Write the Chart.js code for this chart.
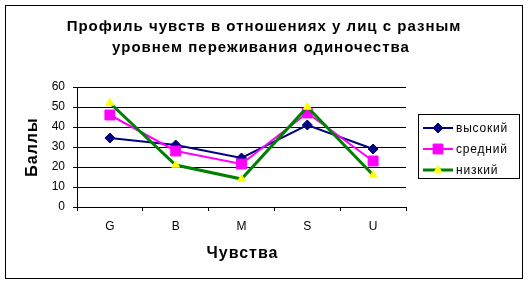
<!DOCTYPE html>
<html>
<head>
<meta charset="utf-8">
<script src="https://cdn.jsdelivr.net/npm/chart.js@4/dist/chart.umd.min.js"></script>
<style>
html,body{margin:0;padding:0;background:#fff;overflow:hidden;}
#wrap{position:absolute;left:0;top:0;width:529px;height:284px;}
</style>
</head>
<body>
<div id="wrap"><canvas id="c" width="529" height="284"></canvas></div>
<script>
const categories = ['G', 'B', 'M', 'S', 'U'];
const seriesNames = ['высокий', 'средний', 'низкий'];
const highValues = [34.5, 31, 24.5, 41, 29];
const midValues = [46, 28, 21.5, 47, 23];
const lowValues = [52, 21, 14, 50, 16];
const titleLines = ['Профиль чувств в отношениях у лиц с разным', 'уровнем переживания одиночества'];
const yTitle = 'Баллы';
const xTitle = 'Чувства';

const FONT = '"Liberation Sans", Arial, sans-serif';

const styles = [
  {line: '#000080', fill: '#000080', point: 'rectRot', radius: 5, width: 2},
  {line: '#FF00FF', fill: '#FF00FF', point: 'rect', radius: 7, width: 2},
  {line: '#008000', fill: '#FFFF00', point: 'triangle', radius: 4.5, width: 3}
];

const decor = {
  id: 'decor',
  beforeDraw(chart) {
    const ctx = chart.ctx;
    ctx.save();
    ctx.fillStyle = '#fff';
    ctx.fillRect(0, 0, chart.width, chart.height);
    ctx.restore();
  },
  afterDraw(chart) {
    const ctx = chart.ctx;
    const ca = chart.chartArea;
    ctx.save();
    // outer border
    ctx.strokeStyle = '#000';
    ctx.lineWidth = 1;
    ctx.strokeRect(5.5, 5.5, 517, 273);
    // title
    ctx.fillStyle = '#000';
    ctx.font = 'bold 15px ' + FONT;
    ctx.letterSpacing = '1px';
    ctx.textAlign = 'center';
    ctx.textBaseline = 'alphabetic';
    ctx.fillText(titleLines[0], 264, 31);
    ctx.fillText(titleLines[1], 261, 52);
    // axis titles
    ctx.font = 'bold 16px ' + FONT;
    ctx.fillText(xTitle, (ca.left + ca.right) / 2 + 1, 258);
    ctx.save();
    ctx.translate(37, (ca.top + ca.bottom) / 2);
    ctx.rotate(-Math.PI / 2);
    ctx.fillText(yTitle, 0, 0);
    ctx.restore();
    // legend
    ctx.letterSpacing = '0.8px';
    ctx.strokeStyle = '#000';
    ctx.lineWidth = 1;
    ctx.strokeRect(418.5, 114.5, 101, 64);
    ctx.font = '12px ' + FONT;
    ctx.textAlign = 'left';
    ctx.textBaseline = 'middle';
    const rows = [128, 149, 170];
    chart.data.datasets.forEach((ds, i) => {
      const y = rows[i];
      ctx.strokeStyle = ds.borderColor;
      ctx.lineWidth = ds.borderWidth;
      ctx.beginPath();
      ctx.moveTo(423, y);
      ctx.lineTo(453, y);
      ctx.stroke();
      ctx.fillStyle = ds.pointBackgroundColor;
      ctx.strokeStyle = ds.pointBorderColor;
      ctx.lineWidth = 1;
      Chart.helpers.drawPoint(ctx, {
        pointStyle: ds.pointStyle,
        radius: ds.pointRadius,
        borderWidth: 1,
        rotation: 0
      }, 438, y);
      ctx.fillStyle = '#000';
      ctx.fillText(seriesNames[i], 456, y + 1);
    });
    ctx.restore();
  }
};

const seriesData = [highValues, midValues, lowValues];
const datasets = seriesData.map((vals, i) => ({
  label: seriesNames[i],
  data: vals,
  borderColor: styles[i].line,
  backgroundColor: styles[i].fill,
  borderWidth: styles[i].width,
  pointStyle: styles[i].point,
  pointRadius: styles[i].radius,
  pointHoverRadius: styles[i].radius,
  pointBackgroundColor: styles[i].fill,
  pointBorderColor: styles[i].fill,
  pointBorderWidth: 1,
  tension: 0,
  fill: false,
  order: 3 - i
}));

new Chart(document.getElementById('c'), {
  type: 'line',
  data: {labels: categories, datasets: datasets},
  options: {
    responsive: false,
    animation: false,
    devicePixelRatio: 1,
    layout: {padding: {left: 0, top: 87, right: 123, bottom: 0}},
    plugins: {legend: {display: false}, title: {display: false}, tooltip: {enabled: false}},
    scales: {
      x: {
        offset: true,
        grid: {offset: true, drawOnChartArea: false, drawTicks: true, tickLength: 4, color: '#000', lineWidth: 1},
        border: {color: '#000', width: 1},
        ticks: {color: '#000', font: {family: FONT, size: 12}, padding: 8, maxRotation: 0},
        afterFit(s) { s.height = 77; }
      },
      y: {
        min: 0, max: 60,
        ticks: {stepSize: 10, color: '#000', font: {family: FONT, size: 12}, padding: 8},
        grid: {color: '#000', lineWidth: 1, tickLength: 4, drawTicks: true},
        border: {color: '#000', width: 1},
        afterFit(s) { s.width = 77; }
      }
    }
  },
  plugins: [decor]
});
</script>
</body>
</html>
